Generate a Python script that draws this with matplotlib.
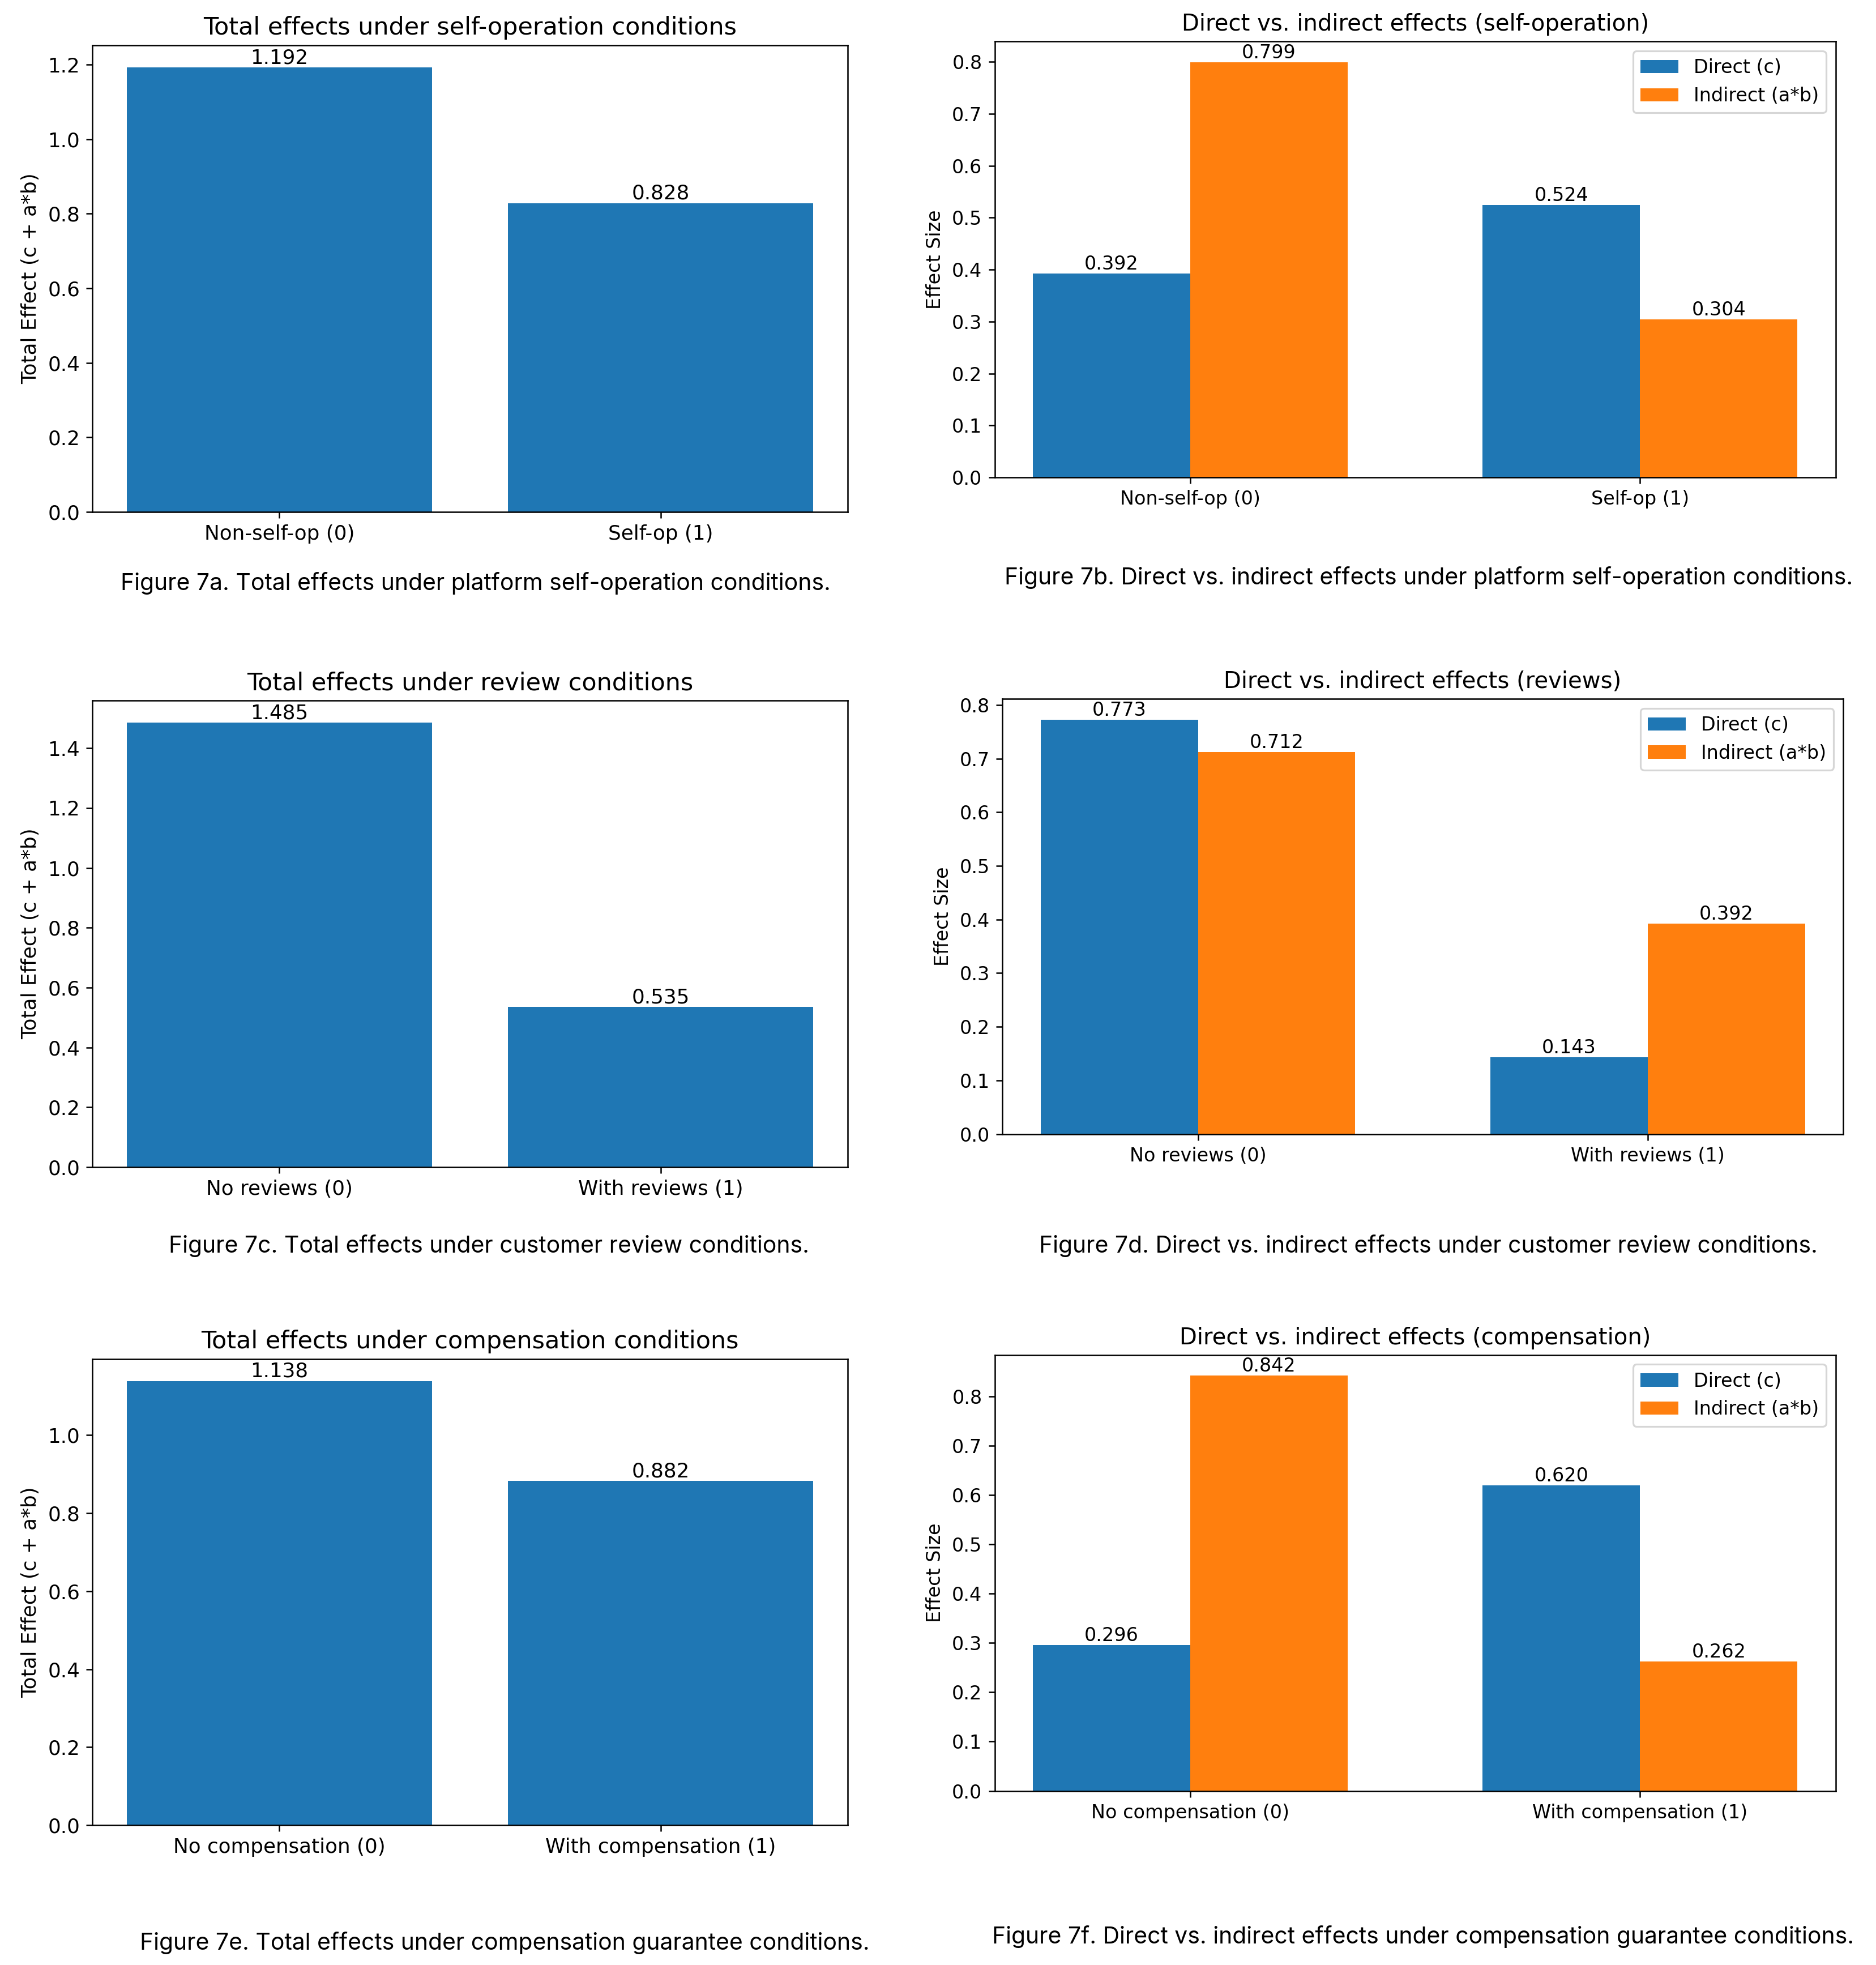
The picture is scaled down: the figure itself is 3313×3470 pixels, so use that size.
import matplotlib
matplotlib.use('Agg')
import matplotlib.pyplot as plt
import numpy as np

# ---- data ----
selfop_groups = ['Non-self-op (0)', 'Self-op (1)']
selfop_total = [1.192, 0.828]
selfop_direct = [0.392, 0.524]
selfop_indirect = [0.799, 0.304]

review_groups = ['No reviews (0)', 'With reviews (1)']
review_total = [1.485, 0.535]
review_direct = [0.773, 0.143]
review_indirect = [0.712, 0.392]

comp_groups = ['No compensation (0)', 'With compensation (1)']
comp_total = [1.138, 0.882]
comp_direct = [0.296, 0.620]
comp_indirect = [0.842, 0.262]

titles_total = ['Total effects under self-operation conditions',
                'Total effects under review conditions',
                'Total effects under compensation conditions']
titles_split = ['Direct vs. indirect effects (self-operation)',
                'Direct vs. indirect effects (reviews)',
                'Direct vs. indirect effects (compensation)']
captions = ['Figure 7a. Total effects under platform self-operation conditions.',
            'Figure 7b. Direct vs. indirect effects under platform self-operation conditions.',
            'Figure 7c. Total effects under customer review conditions.',
            'Figure 7d. Direct vs. indirect effects under customer review conditions.',
            'Figure 7e. Total effects under compensation guarantee conditions.',
            'Figure 7f. Direct vs. indirect effects under compensation guarantee conditions.']

DPI = 228
fig = plt.figure(figsize=(3313 / DPI, 3470 / DPI), dpi=DPI)

# axes rectangles [left, bottom, width, height] in figure fraction
rects_total = [[0.0493, 0.7395, 0.4025, 0.2374],
               [0.0493, 0.4061, 0.4025, 0.2374],
               [0.0493, 0.0711, 0.4025, 0.2374]]
rects_split = [[0.5302, 0.7570, 0.4483, 0.2219],
               [0.5343, 0.4229, 0.4482, 0.2215],
               [0.5302, 0.0886, 0.4483, 0.2219]]
# caption centre x, baseline y
caption_pos = [(0.2534, 0.6998), (0.7615, 0.7027),
               (0.2607, 0.3626), (0.7615, 0.3626),
               (0.2691, 0.0077), (0.7585, 0.0110)]

# the left panels were drawn a bit larger than the right ones
S_LEFT = 1.13
S_RIGHT = 1.055


def plot_total(rect, groups, vals, title, s=S_LEFT):
	ax = fig.add_axes(rect)
	bars = ax.bar(groups, vals, color='#1f77b4')
	ax.bar_label(bars, fmt='%.3f', fontsize=10 * s)
	ax.set_title(title, fontsize=12 * s)
	ax.set_ylabel('Total Effect (c + a*b)', fontsize=10 * s)
	ax.tick_params(labelsize=10 * s)
	return ax


def plot_split(rect, groups, direct, indirect, title, s=S_RIGHT):
	ax = fig.add_axes(rect)
	x = np.arange(len(groups))
	w = 0.35
	b1 = ax.bar(x - w / 2, direct, w, label='Direct (c)', color='#1f77b4')
	b2 = ax.bar(x + w / 2, indirect, w, label='Indirect (a*b)', color='#ff7f0e')
	ax.bar_label(b1, fmt='%.3f', fontsize=10 * s)
	ax.bar_label(b2, fmt='%.3f', fontsize=10 * s)
	ax.set_xticks(x)
	ax.set_xticklabels(groups)
	ax.set_title(title, fontsize=12 * s)
	ax.set_ylabel('Effect Size', fontsize=10 * s)
	ax.tick_params(labelsize=10 * s)
	ax.legend(loc='upper right', fontsize=10 * s)
	return ax


plot_total(rects_total[0], selfop_groups, selfop_total, titles_total[0])
plot_total(rects_total[1], review_groups, review_total, titles_total[1])
plot_total(rects_total[2], comp_groups, comp_total, titles_total[2])

plot_split(rects_split[0], selfop_groups, selfop_direct, selfop_indirect, titles_split[0])
plot_split(rects_split[1], review_groups, review_direct, review_indirect, titles_split[1])
plot_split(rects_split[2], comp_groups, comp_direct, comp_indirect, titles_split[2])

for (cx, cy), txt in zip(caption_pos, captions):
	fig.text(cx, cy, txt, ha='center', va='baseline', fontsize=12.9,
			 family=['Inter', 'DejaVu Sans'])

fig.savefig('out.png', dpi=DPI)
